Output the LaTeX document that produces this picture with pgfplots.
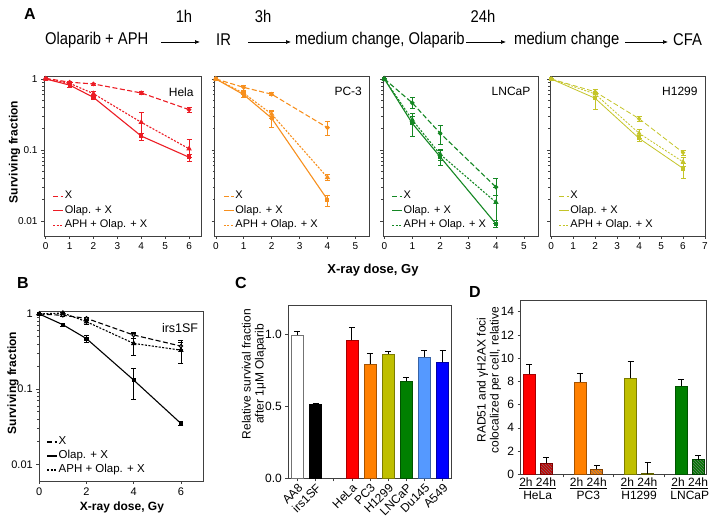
\documentclass[border=0pt]{standalone}
\usepackage{pgfplots}
\pgfplotsset{compat=1.18}
\usepackage{fontspec}
\setmainfont{Liberation Sans}
\newfontfamily\narrowfont[FakeStretch=0.87]{Liberation Sans}
\usetikzlibrary{arrows.meta,patterns}
\definecolor{cHela}{RGB}{236,28,36}
\definecolor{cPC}{RGB}{247,144,30}
\definecolor{cLN}{RGB}{20,135,35}
\definecolor{cH}{RGB}{196,196,40}
\definecolor{bRed}{RGB}{255,0,0}
\definecolor{bOr}{RGB}{255,128,0}
\definecolor{bOl}{RGB}{191,191,0}
\definecolor{bGr}{RGB}{0,128,0}
\definecolor{bLb}{RGB}{85,153,255}
\definecolor{bBl}{RGB}{0,0,255}
\newcommand{\fs}[1]{\fontsize{#1}{#1}\selectfont}
\pgfplotsset{
  zzbase/.style={scale only axis, anchor=south west,
    axis line style={black!75, line width=0.6pt},
    tick style={black!75, line width=0.6pt},
    tick align=outside, tick pos=left,
    major tick length=3pt, minor tick length=1.8pt,
    /pgf/number format/assume math mode=true},
  zzsurv/.style={zzbase, ymin=0.00615, ymax=1.1, height=160pt,
    ytick={0.01,0.1,1}, yticklabels={0.01,0.1,1},
    tick label style={font=\fs{10}},
    legend style={at={(0.035,0.015)}, anchor=south west, draw=none, fill=none,
      font=\fs{11}, row sep=2pt, nodes={inner sep=1pt, text height=8pt, text depth=2.5pt}},
    legend cell align=left,
    legend image code/.code={\draw[##1, mark=none] (0pt,0pt) -- (10pt,0pt);}},
  zzX/.style={dash pattern=on 5pt off 2.5pt, line width=1.1pt, mark=*, mark size=1.7pt, mark options={solid}},
  zzO/.style={solid, line width=1.1pt, mark=square*, mark size=1.5pt, mark options={solid}},
  zzA/.style={dash pattern=on 2pt off 1.5pt, line width=1.1pt, mark=triangle*, mark size=2.1pt, mark options={solid}},
  zzeb/.style={error bars/.cd, y dir=both, y explicit,
    error bar style={solid, line width=0.6pt},
    error mark options={rotate=90, solid, mark size=2.5pt, line width=0.6pt}},
  zzebp/.style={error bars/.cd, y dir=plus, y explicit,
    error bar style={solid, black, line width=0.7pt},
    error mark options={rotate=90, solid, black, mark size=3pt, line width=0.7pt}},
  zzbar/.style={ybar, bar width=12pt, bar shift=0pt, line width=0.6pt},
}
\begin{document}
\begin{tikzpicture}
\path[use as bounding box] (0pt,0pt) rectangle (710pt,525pt);
% ---------- Flow diagram ----------
\node[font=\bfseries\fs{16}] at (30pt,511pt) {A};
\begin{scope}[every node/.style={font=\narrowfont\fs{17}, inner sep=0pt, anchor=west}]
\node at (45pt,485pt) {Olaparib + APH};
\node at (216pt,485pt) {IR};
\node at (295pt,485pt) {medium change, Olaparib};
\node at (514pt,485pt) {medium change};
\node at (673pt,485pt) {CFA};
\node[anchor=center] at (184pt,509pt) {1h};
\node[anchor=center] at (263pt,509pt) {3h};
\node[anchor=center] at (483pt,509pt) {24h};
\end{scope}
\begin{scope}[-{Latex[length=5pt,width=4pt]}, line width=0.7pt]
\draw (161pt,483pt) -- (200pt,483pt);
\draw (248pt,483pt) -- (291pt,483pt);
\draw (466pt,483pt) -- (506pt,483pt);
\draw (625pt,483pt) -- (668pt,483pt);
\end{scope}
% ---------- Panel A: Hela ----------
\begin{axis}[ymode=log, zzsurv, at={(44pt,289pt)}, width=157pt, xmin=-0.07, xmax=6.5, xtick={0,...,6}]
\addplot[color=cHela, zzX, zzeb] coordinates {(0,1.02) +- (0,0.03) (1,0.9) +- (0,0.03) (2,0.85) +- (0,0.03) (4,0.635) +- (0,0.03) (6,0.37) +- (0,0.03)};
\addplot[color=cHela, zzO, zzeb] coordinates {(0,1.0) +- (0,0.03) (1,0.82) +- (0,0.05) (2,0.55) +- (0,0.04) (4,0.157) += (0,0.013) -= (0,0.022) (6,0.079) += (0,0.007) -= (0,0.009)};
\addplot[color=cHela, zzA, zzeb] coordinates {(0,1.0) +- (0,0.03) (1,0.87) +- (0,0.04) (2,0.62) +- (0,0.05) (4,0.245) += (0,0.095) -= (0,0.073) (6,0.104) += (0,0.038) -= (0,0.025)};
\legend{X, Olap. + X, APH + Olap. + X}
\node[anchor=north east, font=\fs{12}] at (rel axis cs:0.975,0.95) {Hela};
\end{axis}
% ---------- Panel A: PC-3 ----------
\begin{axis}[ymode=log, zzsurv, at={(214.7pt,289pt)}, width=154.6pt, xmin=-0.04, xmax=5.5, xtick={0,...,5}, yticklabels={}]
\addplot[color=cPC, zzX, zzeb] coordinates {(0,1.0) +- (0,0.03) (1,0.76) +- (0,0.06) (2,0.61) +- (0,0.03) (4,0.206) +- (0,0.045)};
\addplot[color=cPC, zzO, zzeb] coordinates {(0,1.0) +- (0,0.03) (1,0.6) +- (0,0.05) (2,0.28) +- (0,0.07) (4,0.02) += (0,0.003) -= (0,0.004)};
\addplot[color=cPC, zzA, zzeb] coordinates {(0,1.0) +- (0,0.03) (1,0.63) +- (0,0.03) (2,0.32) +- (0,0.04) (4,0.041) +- (0,0.004)};
\legend{X, Olap. + X, APH + Olap. + X}
\node[anchor=north east, font=\fs{12}] at (rel axis cs:0.975,0.95) {PC-3};
\end{axis}
% ---------- Panel A: LNCaP ----------
\begin{axis}[ymode=log, zzsurv, at={(383pt,289pt)}, width=154.8pt, xmin=-0.05, xmax=5.5, xtick={0,...,5}, yticklabels={}]
\addplot[color=cLN, zzX, zzeb] coordinates {(0,1.0) +- (0,0.03) (1,0.46) += (0,0.1) -= (0,0.07) (2,0.172) +- (0,0.05) (4,0.030) += (0,0.01) -= (0,0.007)};
\addplot[color=cLN, zzO, zzeb] coordinates {(0,1.0) +- (0,0.03) (1,0.237) += (0,0.09) -= (0,0.08) (2,0.08) +- (0,0.02) (4,0.0091) +- (0,0.001)};
\addplot[color=cLN, zzA, zzeb] coordinates {(0,1.0) +- (0,0.03) (1,0.265) +- (0,0.03) (2,0.087) +- (0,0.015) (4,0.0183) += (0,0.012) -= (0,0.009)};
\legend{X, Olap. + X, APH + Olap. + X}
\node[anchor=north east, font=\fs{12}] at (rel axis cs:0.975,0.95) {LNCaP};
\end{axis}
% ---------- Panel A: H1299 ----------
\begin{axis}[ymode=log, zzsurv, at={(550pt,289pt)}, width=155pt, xmin=-0.05, xmax=7, xtick={0,...,7}, yticklabels={}]
\addplot[color=cH, zzX, line width=0.8pt, zzeb] coordinates {(0,1.0) +- (0,0.03) (2,0.66) +- (0,0.06) (4,0.276) +- (0,0.025) (6,0.092) +- (0,0.008)};
\addplot[color=cH, zzO, line width=0.8pt, zzeb] coordinates {(0,1.0) +- (0,0.03) (2,0.535) += (0,0.1) -= (0,0.16) (4,0.146) +- (0,0.015) (6,0.055) += (0,0.01) -= (0,0.015)};
\addplot[color=cH, zzA, line width=0.8pt, zzeb] coordinates {(0,1.0) +- (0,0.03) (2,0.615) +- (0,0.04) (4,0.172) +- (0,0.025) (6,0.068) +- (0,0.01)};
\legend{X, Olap. + X, APH + Olap. + X}
\node[anchor=north east, font=\fs{12}] at (rel axis cs:0.975,0.95) {H1299};
\end{axis}
\node[rotate=90, font=\bfseries\fs{12}] at (14.5pt,373pt) {Surviving fraction};
\node[font=\bfseries\fs{13}] at (373pt,255pt) {X-ray dose, Gy};
% ---------- Panel B ----------
\node[font=\bfseries\fs{16}] at (23pt,242pt) {B};
\begin{axis}[ymode=log, zzsurv, at={(39.3pt,44pt)}, width=164pt, height=170pt, ymin=0.006, ymax=1.096,
  xmin=0, xmax=6.95, xtick={0,2,4,6}, tick label style={font=\fs{11}},
  legend style={at={(0.025,0.015)}, font=\fs{11.5}, row sep=1.5pt}]
\addplot[color=black, zzX, mark options={solid, fill=white}, zzeb] coordinates {(0,1.0) +- (0,0.03) (1,0.96) +- (0,0.03) (2,0.875) +- (0,0.04) (4,0.525) +- (0,0.05) (6,0.374) += (0,0.05) -= (0,0.04)};
\addplot[color=black, zzO, zzeb] coordinates {(0,1.0) +- (0,0.03) (1,0.72) +- (0,0.03) (2,0.47) +- (0,0.05) (4,0.132) += (0,0.058) -= (0,0.059) (6,0.035) +- (0,0.002)};
\addplot[color=black, zzA, zzeb] coordinates {(0,1.0) +- (0,0.03) (1,1.03) +- (0,0.03) (2,0.79) +- (0,0.05) (4,0.406) += (0,0.15) -= (0,0.126) (6,0.33) += (0,0.12) -= (0,0.11)};
\legend{X, Olap. + X, APH + Olap. + X}
\node[anchor=north east, font=\fs{12.5}] at (rel axis cs:0.99,0.95) {irs1SF};
\end{axis}
\node[rotate=90, font=\bfseries\fs{12}] at (13pt,142pt) {Surviving fraction};
\node[font=\bfseries\fs{12}] at (122pt,18pt) {X-ray dose, Gy};
% ---------- Panel C ----------
\node[font=\bfseries\fs{16}] at (241pt,242pt) {C};
\begin{axis}[zzbase, at={(288.3pt,46.7pt)}, width=163.4pt, height=173.3pt,
  xmin=-0.5, xmax=8.5, ymin=0, ymax=1.2,
  ytick={0,0.5,1}, yticklabel style={/pgf/number format/.cd, fixed, fixed zerofill, precision=1},
  xtick={0,...,8}, xticklabels={AA8,irs1SF,,HeLa,PC3,H1299,LNCaP,Du145,A549},
  tick label style={font=\fs{12}},
  xticklabel style={rotate=45, anchor=north east, inner sep=1pt}]
\addplot[zzbar, fill=white, draw=black!55, zzebp] coordinates {(0,0.99) +- (0,0.03)};
\addplot[zzbar, fill=black, draw=black, zzebp] coordinates {(1,0.515) +- (0,0.006)};
\addplot[zzbar, fill=bRed, draw=bRed!65!black, zzebp] coordinates {(3,0.955) +- (0,0.09)};
\addplot[zzbar, fill=bOr, draw=bOr!65!black, zzebp] coordinates {(4,0.79) +- (0,0.075)};
\addplot[zzbar, fill=bOl, draw=bOl!65!black, zzebp] coordinates {(5,0.86) +- (0,0.02)};
\addplot[zzbar, fill=bGr, draw=bGr!65!black, zzebp] coordinates {(6,0.675) +- (0,0.025)};
\addplot[zzbar, fill=bLb, draw=bLb!65!black, zzebp] coordinates {(7,0.84) +- (0,0.045)};
\addplot[zzbar, fill=bBl, draw=bBl!65!black, zzebp] coordinates {(8,0.805) +- (0,0.08)};
\end{axis}
\node[rotate=90, font=\fs{12}, align=center] at (254pt,151pt) {Relative survival fraction\\[1pt]after 1μM Olaparib};
% ---------- Panel D ----------
\node[font=\bfseries\fs{16}] at (475pt,233pt) {D};
\begin{axis}[zzbase, at={(520.7pt,50.7pt)}, width=186pt, height=174.3pt,
  xmin=-0.5, xmax=10.5, ymin=0, ymax=15, clip=false,
  ytick={0,2,...,14}, xtick={2,5,8}, xticklabels={},
  tick label style={font=\fs{12}}]
\addplot[zzbar, fill=bRed, draw=bRed!65!black, zzebp] coordinates {(0,8.6) +- (0,0.85)};
\addplot[zzbar, fill=bRed!80!black, draw=bRed!50!black, postaction={pattern=north west lines, pattern color=black!55}, zzebp] coordinates {(1,0.95) +- (0,0.5)};
\addplot[zzbar, fill=bOr, draw=bOr!65!black, zzebp] coordinates {(3,7.95) +- (0,0.75)};
\addplot[zzbar, fill=bOr, draw=bOr!50!black, postaction={pattern=north west lines, pattern color=black!55}, zzebp] coordinates {(4,0.45) +- (0,0.35)};
\addplot[zzbar, fill=bOl, draw=bOl!65!black, zzebp] coordinates {(6,8.25) +- (0,1.45)};
\addplot[zzbar, fill=bOl, draw=bOl!50!black, postaction={pattern=north west lines, pattern color=black!55}, zzebp] coordinates {(7,0.05) +- (0,0.95)};
\addplot[zzbar, fill=bGr, draw=bGr!65!black, zzebp] coordinates {(9,7.6) +- (0,0.6)};
\addplot[zzbar, fill=bGr, draw=bGr!50!black, postaction={pattern=north west lines, pattern color=black!55}, zzebp] coordinates {(10,1.25) +- (0,0.35)};
\node[anchor=north, align=center, font=\fs{12}, inner sep=0pt] at (axis cs:0.5,0) [yshift=-3.5pt] {\underline{2h 24h}\\[1pt]HeLa};
\node[anchor=north, align=center, font=\fs{12}, inner sep=0pt] at (axis cs:3.5,0) [yshift=-3.5pt] {\underline{2h 24h}\\[1pt]PC3};
\node[anchor=north, align=center, font=\fs{12}, inner sep=0pt] at (axis cs:6.5,0) [yshift=-3.5pt] {\underline{2h 24h}\\[1pt]H1299};
\node[anchor=north, align=center, font=\fs{12}, inner sep=0pt] at (axis cs:9.5,0) [yshift=-3.5pt] {\underline{2h 24h}\\[1pt]LNCaP};
\end{axis}
\node[rotate=90, font=\fs{12}, align=center] at (489pt,145pt) {RAD51 and γH2AX foci\\[1pt]colocalized per cell,  relative};
\end{tikzpicture}
\end{document}
